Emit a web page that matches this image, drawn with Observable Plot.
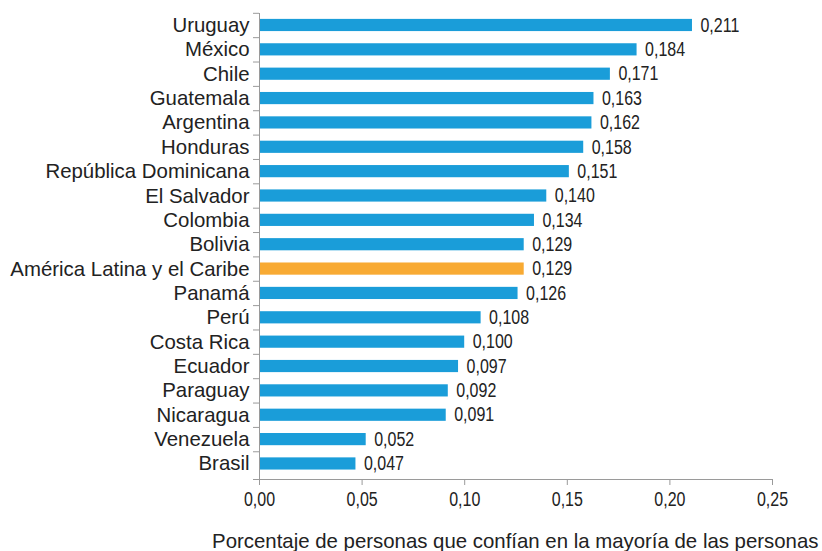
<!DOCTYPE html>
<html>
<head>
<meta charset="utf-8">
<script src="https://cdn.jsdelivr.net/npm/d3@7"></script>
<script src="https://cdn.jsdelivr.net/npm/@observablehq/plot@0.6"></script>
<style>
  html, body { margin: 0; padding: 0; background: #fff; }
</style>
</head>
<body>
<div id="chart"></div>
<script>
const countries = ["Uruguay", "México", "Chile", "Guatemala", "Argentina", "Honduras", "República Dominicana", "El Salvador", "Colombia", "Bolivia", "América Latina y el Caribe", "Panamá", "Perú", "Costa Rica", "Ecuador", "Paraguay", "Nicaragua", "Venezuela", "Brasil"];
const values = [0.211, 0.184, 0.171, 0.163, 0.162, 0.158, 0.151, 0.140, 0.134, 0.129, 0.129, 0.126, 0.108, 0.100, 0.097, 0.092, 0.091, 0.052, 0.047];
const highlight = "América Latina y el Caribe";
const xTicks = [0, 0.05, 0.10, 0.15, 0.20, 0.25];
const xTitle = "Porcentaje de personas que confían en la mayoría de las personas";

const data = countries.map((c, i) => ({country: c, value: values[i], group: c === highlight ? "promedio" : "países"}));

const W = 822, H = 551, mT = 13, mB = 72, mL = 259, mR = 50;
const yTop = 12.8, yStep = 24.36;
const yBottom = yTop + countries.length * yStep;
const lastCenter = yTop + (countries.length - 0.5) * yStep;
const axisColor = "#9a9a9a";
const textColor = "#222";
const sans = "'Liberation Sans', Arial, sans-serif";
const comma = (f) => (d) => d3.format(f)(d).replace(".", ",");

const chart = Plot.plot({
  width: W, height: H,
  marginLeft: mL, marginRight: mR, marginTop: mT, marginBottom: mB,
  style: {fontFamily: sans, fontSize: "20px", background: "#fff", color: textColor},
  x: {domain: [0, 0.25]},
  y: {domain: countries, range: [yTop, yBottom], paddingInner: 0.5, paddingOuter: 0.25, round: false},
  color: {domain: ["países", "promedio"], range: ["#1a9dd9", "#f8aa33"]},
  marks: [
    Plot.barX(data, {x: "value", y: "country", fill: "group"}),
    Plot.text(data, {x: "value", y: "country", text: d => comma(".3f")(d.value), textAnchor: "start", dx: 8, fontSize: 19.5, fill: textColor}),
    Plot.axisY({tickSize: 0, tickPadding: 10, fontSize: 20.4, label: null, color: textColor}),
    Plot.axisY({ticks: countries, tickSize: 6, tickFormat: () => "", dy: -yStep / 2, stroke: axisColor, label: null}),
    Plot.axisY({ticks: [countries[countries.length - 1]], tickSize: 6, tickFormat: () => "", dy: (H - mB) - lastCenter, stroke: axisColor, label: null}),
    Plot.axisX({ticks: xTicks, tickSize: 6, tickPadding: 7, tickFormat: comma(".2f"), fontSize: 19.5, label: null, stroke: axisColor, fill: textColor}),
    Plot.ruleX([0], {stroke: axisColor}),
    Plot.frame({anchor: "bottom", stroke: axisColor}),
    Plot.text([xTitle], {frameAnchor: "bottom-right", dx: 46, dy: 68.5, lineAnchor: "bottom", fontSize: 20.4, fill: textColor})
  ]
});

document.getElementById("chart").appendChild(chart);

// Narrow look for numeric labels (reference uses a condensed face):
// squeeze each numeric text horizontally around its own anchor point.
const k = 0.82;
chart.querySelectorAll("text").forEach(t => {
  if (!/^\d,\d+$/.test(t.textContent.trim())) return;
  const bb = t.getBBox();
  const anchor = t.getAttribute("text-anchor") || getComputedStyle(t).textAnchor || "start";
  const ax = anchor === "middle" ? bb.x + bb.width / 2 : anchor === "end" ? bb.x + bb.width : bb.x;
  const tr = t.getAttribute("transform") || "";
  t.setAttribute("transform", `${tr} translate(${ax},0) scale(${k},1) translate(${-ax},0)`);
});
</script>
</body>
</html>
